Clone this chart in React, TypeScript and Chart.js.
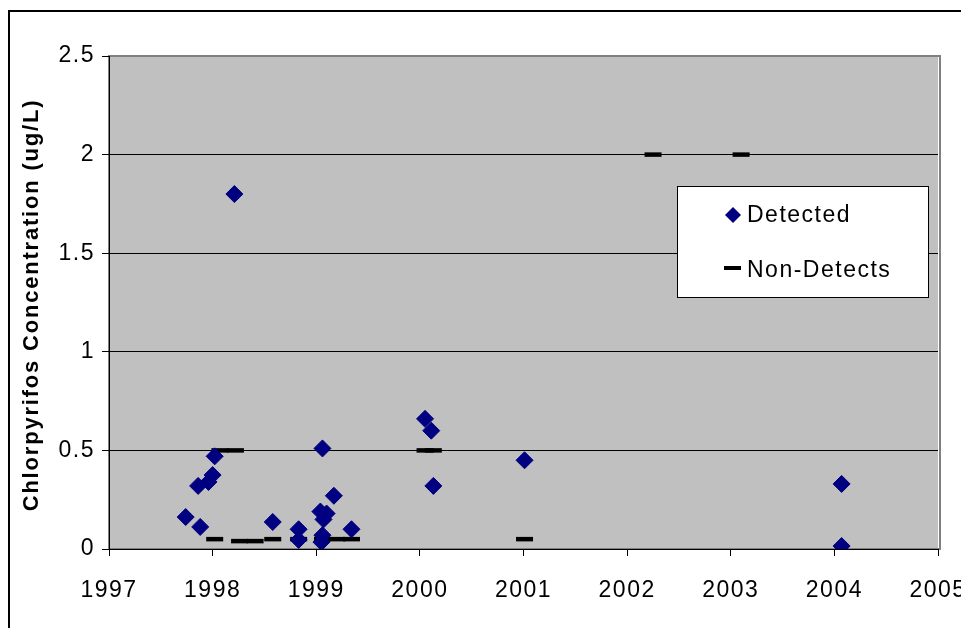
import React, { useEffect, useRef } from "react";
import { Chart, registerables } from "chart.js";

Chart.register(...registerables);

// ---- data ----
const detectedX = [1997.74, 1997.88, 1997.86, 1997.96, 1998.0, 1998.02, 1998.21, 1998.58, 1998.83, 1998.83, 1999.06, 1999.17, 1999.04, 1999.1, 1999.07, 1999.06, 1999.05, 1999.34, 2000.05, 2000.11, 2000.13, 2001.01, 2004.07, 2004.07];
const detectedY = [0.162, 0.112, 0.32, 0.34, 0.375, 0.47, 1.8, 0.137, 0.1, 0.046, 0.51, 0.27, 0.19, 0.18, 0.15, 0.07, 0.035, 0.1, 0.66, 0.6, 0.32, 0.45, 0.33, 0.015];
const nonDetectX = [1998.07, 1998.22, 1998.02, 1998.26, 1998.41, 1998.58, 1998.83, 1999.06, 1999.2, 1999.34, 2000.05, 2000.13, 2001.01, 2002.25, 2003.1];
const nonDetectY = [0.5, 0.5, 0.05, 0.04, 0.04, 0.05, 0.05, 0.05, 0.05, 0.05, 0.5, 0.5, 0.05, 2.0, 2.0];
const xTickValues = [1997, 1998, 1999, 2000, 2001, 2002, 2003, 2004, 2005];
const yTickValues = [0, 0.5, 1, 1.5, 2, 2.5];
const seriesLabels = ["Detected", "Non-Detects"];
const yTitle = "Chlorpyrifos Concentration (ug/L)";

const FONT = "'Liberation Sans', Arial, sans-serif";
const NAVY = "#000080";

const decorPlugin = {
  id: "decor",
  beforeDraw(chart: any) {
    const { ctx, chartArea: a } = chart;
    ctx.save();
    ctx.fillStyle = "#ffffff";
    ctx.fillRect(0, 0, chart.width, chart.height);
    ctx.strokeStyle = "#000";
    ctx.lineWidth = 2;
    ctx.strokeRect(9, 11, 3000, 3000);
    ctx.fillStyle = "#C0C0C0";
    ctx.fillRect(a.left, a.top, a.right - a.left, a.bottom - a.top);
    ctx.strokeStyle = "#808080";
    ctx.lineWidth = 2;
    ctx.strokeRect(a.left, a.top, a.right - a.left + 2, a.bottom - a.top);
    ctx.restore();
    (ctx as any).letterSpacing = "1.5px";
  },
  afterDraw(chart: any) {
    const { ctx } = chart;
    ctx.save();
    // y-axis title
    ctx.translate(32, 305);
    ctx.rotate(-Math.PI / 2);
    (ctx as any).letterSpacing = "1.8px";
    ctx.font = `bold 22px ${FONT}`;
    ctx.fillStyle = "#000";
    ctx.textAlign = "center";
    ctx.textBaseline = "middle";
    ctx.fillText(yTitle, 0, 0);
    ctx.restore();

    // legend
    ctx.save();
    ctx.fillStyle = "#fff";
    ctx.fillRect(677, 186, 252, 112);
    ctx.strokeStyle = "#000";
    ctx.lineWidth = 1;
    ctx.strokeRect(677.5, 186.5, 251, 111);
    const dx = 733, dy = 215;
    ctx.fillStyle = NAVY;
    ctx.beginPath();
    ctx.moveTo(dx, dy - 8);
    ctx.lineTo(dx + 8, dy);
    ctx.lineTo(dx, dy + 8);
    ctx.lineTo(dx - 8, dy);
    ctx.closePath();
    ctx.fill();
    ctx.fillStyle = "#000";
    ctx.fillRect(724, 266, 17, 4);
    (ctx as any).letterSpacing = "1.5px";
    ctx.font = `23px ${FONT}`;
    ctx.textAlign = "left";
    ctx.textBaseline = "alphabetic";
    ctx.fillText(seriesLabels[0], 747, 222);
    ctx.fillText(seriesLabels[1], 747, 277);
    ctx.restore();
  },
};

export default function App() {
  const ref = useRef<HTMLCanvasElement | null>(null);
  useEffect(() => {
    if (!ref.current) return;
    const chart = new Chart(ref.current, {
      type: "scatter",
      data: {
        datasets: [
          {
            label: seriesLabels[0],
            data: detectedX.map((x, i) => ({ x, y: detectedY[i] })),
            pointStyle: "rectRot",
            pointRadius: 8.5,
            pointBackgroundColor: NAVY,
            pointBorderColor: NAVY,
            pointBorderWidth: 1,
          },
          {
            label: seriesLabels[1],
            data: nonDetectX.map((x, i) => ({ x, y: nonDetectY[i] })),
            pointStyle: "line",
            pointRadius: 8.5,
            pointBorderColor: "#000",
            pointBorderWidth: 4.5,
          },
        ],
      },
      options: {
        responsive: false,
        animation: false,
        layout: { padding: { top: 56, right: 23, left: 0, bottom: 0 } },
        plugins: { legend: { display: false }, tooltip: { enabled: false } },
        scales: {
          x: {
            type: "linear",
            min: 1997,
            max: 2005,
            afterBuildTicks: (s: any) => {
              s.ticks = xTickValues.map((v) => ({ value: v }));
            },
            afterFit: (s: any) => {
              s.height = 79;
              s.paddingLeft = 0;
              s.paddingRight = 0;
            },
            ticks: {
              callback: (v: any) => String(v),
              font: { family: FONT, size: 23 },
              color: "#000",
              padding: 21,
              maxRotation: 0,
              autoSkip: false,
            },
            grid: { drawOnChartArea: false, tickLength: 7, tickColor: "#000" },
            border: { color: "#000", width: 1 },
          },
          y: {
            type: "linear",
            min: 0,
            max: 2.5,
            afterBuildTicks: (s: any) => {
              s.ticks = yTickValues.map((v) => ({ value: v }));
            },
            afterFit: (s: any) => {
              s.width = 109;
              s.paddingTop = 0;
              s.paddingBottom = 0;
            },
            ticks: {
              callback: (v: any) => String(v),
              font: { family: FONT, size: 23 },
              color: "#000",
              padding: 7,
              autoSkip: false,
            },
            grid: {
              color: (c: any) =>
                c.tick && (c.tick.value === 0 || c.tick.value === 2.5) ? "rgba(0,0,0,0)" : "#000",
              tickColor: "#000",
              tickLength: 7,
              lineWidth: 1,
            },
            border: { color: "#000", width: 1 },
          },
        },
      },
      plugins: [decorPlugin],
    });
    return () => chart.destroy();
  }, []);
  return (
    <div style={{ position: "absolute", left: 0, top: 0, width: 961, height: 628 }}>
      <canvas ref={ref} width={961} height={628} style={{ display: "block" }} />
    </div>
  );
}
